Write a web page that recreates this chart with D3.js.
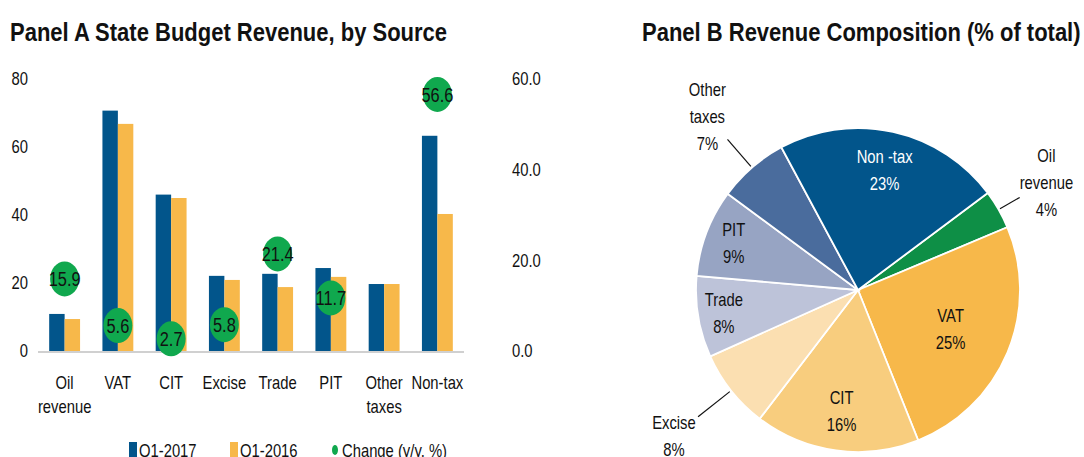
<!DOCTYPE html>
<html>
<head>
<meta charset="utf-8">
<script src="https://cdn.jsdelivr.net/npm/d3@7"></script>
<style>
  body { margin: 0; background: #fff; }
  svg { display: block; }
  text { font-family: "Liberation Sans", Arial, sans-serif; fill: #111; }
  .title { font-weight: bold; font-size: 26.5px; }
  .tick text { font-size: 18.5px; }
</style>
</head>
<body>
<svg id="chart" width="1084" height="457"></svg>
<script>
// categories and values (bn)
const categories = ["Oil revenue", "VAT", "CIT", "Excise", "Trade", "PIT", "Other taxes", "Non-tax"];
const q2017 = [10.9, 70.7, 46.0, 22.1, 22.7, 24.4, 19.7, 63.3];
const q2016 = [9.4, 66.8, 45.0, 20.9, 18.8, 21.8, 19.7, 40.3];
const change = [15.9, 5.6, 2.7, 5.8, 21.4, 11.7, null, 56.6];
const leftTicks = [0, 20, 40, 60, 80];
const rightTicks = [0, 20, 40, 60];

// pie slices, in drawing order (clockwise from the Oil/Non-tax border)
const pieNames = ["Oil revenue", "VAT", "CIT", "Excise", "Trade", "PIT", "Other taxes", "Non-tax"];
const pieLabels = [["Oil", "revenue"], ["VAT"], ["CIT"], ["Excise"], ["Trade"], ["PIT"], ["Other", "taxes"], ["Non -tax"]];

const colors = {
  blue: "#02558b", orange: "#f7b84a", green: "#10a84e"
};
const sliceColors = ["#0e8f46", "#f7b84a", "#f8cd7e", "#fbdfb1", "#bdc3d9", "#97a4c3", "#4a6c9d", "#02558b"];

const FS = 18.5;    // body font size
const K = 0.8;      // horizontal squeeze, stands in for a narrow face
const KT = 0.83;    // same for the bold titles

const svg = d3.select("#chart");

// squeeze a text horizontally around its own anchor x
const condense = function(node, k) {
  const t = d3.select(node);
  let x = t.attr("x");
  if (x == null) {
    const ts = t.select("tspan");
    x = ts.empty() ? 0 : ts.attr("x");
  }
  x = +x || 0;
  t.attr("transform", `translate(${x * (1 - k)},0) scale(${k},1)`);
};

/* ---------- Panel A ---------- */
svg.append("text").attr("class", "title").attr("x", 10).attr("y", 41)
  .text("Panel A State Budget Revenue, by Source");

const a = {left: 38, right: 464, top: 79, bottom: 351};

const x = d3.scaleBand().domain(categories).range([a.left, a.right]).paddingInner(0.42).paddingOuter(0.21);
const yL = d3.scaleLinear().domain([0, 80]).range([a.bottom, a.top]);
const yR = d3.scaleLinear().domain([0, 60]).range([a.bottom, a.top]);

const gA = svg.append("g");

const leftAxis = gA.append("g").attr("transform", `translate(28,0)`)
  .call(d3.axisLeft(yL).tickValues(leftTicks).tickSize(0).tickPadding(0));
leftAxis.select(".domain").remove();
leftAxis.selectAll("text").attr("x", 0);

const rightAxis = gA.append("g").attr("transform", `translate(${a.right + 48},0)`)
  .call(d3.axisRight(yR).tickValues(rightTicks).tickFormat(d3.format(".1f")).tickSize(0).tickPadding(0));
rightAxis.select(".domain").remove();
rightAxis.selectAll("text").attr("x", 0);

const bw = x.bandwidth() / 2;
gA.append("g").selectAll("rect").data(categories).join("rect")
  .attr("x", d => x(d)).attr("width", bw)
  .attr("y", (d, i) => yL(q2017[i])).attr("height", (d, i) => a.bottom - yL(q2017[i]))
  .attr("fill", colors.blue);
gA.append("g").selectAll("rect").data(categories).join("rect")
  .attr("x", d => x(d) + bw).attr("width", bw)
  .attr("y", (d, i) => yL(q2016[i])).attr("height", (d, i) => a.bottom - yL(q2016[i]))
  .attr("fill", colors.orange);

gA.append("line").attr("x1", a.left).attr("x2", a.right).attr("y1", a.bottom + 1).attr("y2", a.bottom + 1)
  .attr("stroke", "#d0d0d0").attr("stroke-width", 2);

const dots = gA.append("g").selectAll("g").data(categories.map((c, i) => ({c, v: change[i]})).filter(d => d.v != null))
  .join("g").attr("transform", d => `translate(${x(d.c) + bw},${yR(d.v)})`);
dots.append("ellipse").attr("rx", 14.5).attr("ry", 17.5).attr("fill", colors.green);
dots.append("text").attr("x", 0).attr("text-anchor", "middle").attr("dy", "0.36em").attr("font-size", 20.5)
  .text(d => d3.format(".1f")(d.v));

// category labels
const xl = gA.append("g").selectAll("text").data(categories).join("text")
  .attr("y", 389).attr("text-anchor", "middle").attr("font-size", FS);
xl.each(function(d) {
  const words = d === "Non-tax" ? [d] : d.split(" ");
  d3.select(this).selectAll("tspan").data(words).join("tspan")
    .attr("x", x(d) + bw).attr("dy", (w, i) => i ? 24 : 0).text(w => w);
});

// legend
const legend = [
  {label: "Q1-2017", color: colors.blue, shape: "rect", x: 129},
  {label: "Q1-2016", color: colors.orange, shape: "rect", x: 230},
  {label: "Change (y/y, %)", color: colors.green, shape: "dot", x: 332}
];
const lg = svg.append("g").selectAll("g").data(legend).join("g")
  .attr("transform", d => `translate(${d.x},450)`);
lg.filter(d => d.shape === "rect").append("rect").attr("x", 0).attr("y", -8).attr("width", 8).attr("height", 16).attr("fill", d => d.color);
lg.filter(d => d.shape === "dot").append("ellipse").attr("cx", 3).attr("cy", 0).attr("rx", 3).attr("ry", 5).attr("fill", d => d.color);
lg.append("text").attr("x", 10).attr("dy", "0.36em").attr("font-size", FS).text(d => d.label);

/* ---------- Panel B ---------- */
svg.append("text").attr("class", "title").attr("x", 642).attr("y", 41)
  .text("Panel B Revenue Composition (% of total)");

const cx = 858, cy = 290, R = 162;
const total = d3.sum(q2017);
const pie = d3.pie().sort(null).value(d => d.v).startAngle(53.2 * Math.PI / 180).endAngle(413.2 * Math.PI / 180);
const arcs = pie(pieNames.map((n, i) => ({n, v: q2017[i], lines: pieLabels[i], color: sliceColors[i]})));
const arc = d3.arc().innerRadius(0).outerRadius(R);

const gB = svg.append("g").attr("transform", `translate(${cx},${cy})`);
gB.selectAll("path").data(arcs).join("path")
  .attr("d", arc).attr("fill", d => d.data.color)
  .attr("stroke", "#fff").attr("stroke-width", 1.8);

// label layout: radius factor per slice, outside ones get a leader line
const labelR = {"Oil revenue": 1.34, "VAT": 0.62, "CIT": 0.75, "Excise": 1.45, "Trade": 0.84,
                "PIT": 0.82, "Other taxes": 1.42, "Non-tax": 0.76};
const pctFmt = v => Math.round(v / total * 100) + "%";

arcs.forEach(d => {
  const mid = (d.startAngle + d.endAngle) / 2;
  const f = labelR[d.data.n];
  const lx = Math.sin(mid) * R * f, ly = -Math.cos(mid) * R * f;
  const lines = d.data.lines.concat([pctFmt(d.data.v)]);
  const white = d.data.n === "Non-tax";
  const t = gB.append("text").attr("text-anchor", "middle").attr("font-size", FS)
    .attr("y", ly - (lines.length - 1) * 13.5).style("fill", white ? "#fff" : "#111");
  lines.forEach((l, i) => t.append("tspan").attr("x", lx).attr("dy", i ? 27 : "0.36em").text(l));
  if (f > 1) {
    const r0 = R * 1.01, r1 = R * (f - 0.19);
    gB.append("line")
      .attr("x1", Math.sin(mid) * r0).attr("y1", -Math.cos(mid) * r0)
      .attr("x2", Math.sin(mid) * r1).attr("y2", -Math.cos(mid) * r1)
      .attr("stroke", "#111").attr("stroke-width", 1.2);
  }
});

// narrow all text the way the source font is narrow
svg.selectAll("text").each(function() {
  condense(this, d3.select(this).classed("title") ? KT : K);
});
</script>
</body>
</html>
